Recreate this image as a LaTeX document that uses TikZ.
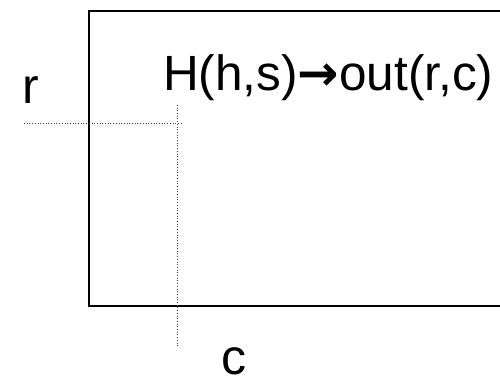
\documentclass[tikz,border=0pt]{standalone}
\usepackage{fontspec}
\setmainfont{Liberation Sans}
\newfontfamily\arrowfont{DejaVu Sans}
\usetikzlibrary{positioning}

\begin{document}
\begin{tikzpicture}[
    x=1pt, y=1pt,
    lbl/.style={inner sep=0pt, anchor=base west, font=\fontsize{50}{60}\selectfont},
    frame/.style={draw=black, line width=2pt},
    guide/.style={draw=black!75, dotted, line width=0.7pt}
]
\useasboundingbox (0,0) rectangle (500,380);
\clip (0,0) rectangle (500,380);
% image area
\coordinate (tl) at (89,369);
\coordinate (br) at (506,74);
\draw[frame] (tl) rectangle (br);
% guide lines for the output pixel
\coordinate (rs) at (24,257);
\coordinate (re) at (181,257);
\coordinate (cs) at (177,275);
\coordinate (ce) at (177,34);
\draw[guide] (rs) -- (re);
\draw[guide] (cs) -- (ce);
% labels
\node[lbl] (row) at (22,276) {r};
\node[lbl, font=\fontsize{49.5}{59}\selectfont] (map) at (163,289) {H(h,s){\arrowfont\bfseries →}out(r,c)};
\node[lbl] (col) at (221,6) {c};
\end{tikzpicture}
\end{document}
